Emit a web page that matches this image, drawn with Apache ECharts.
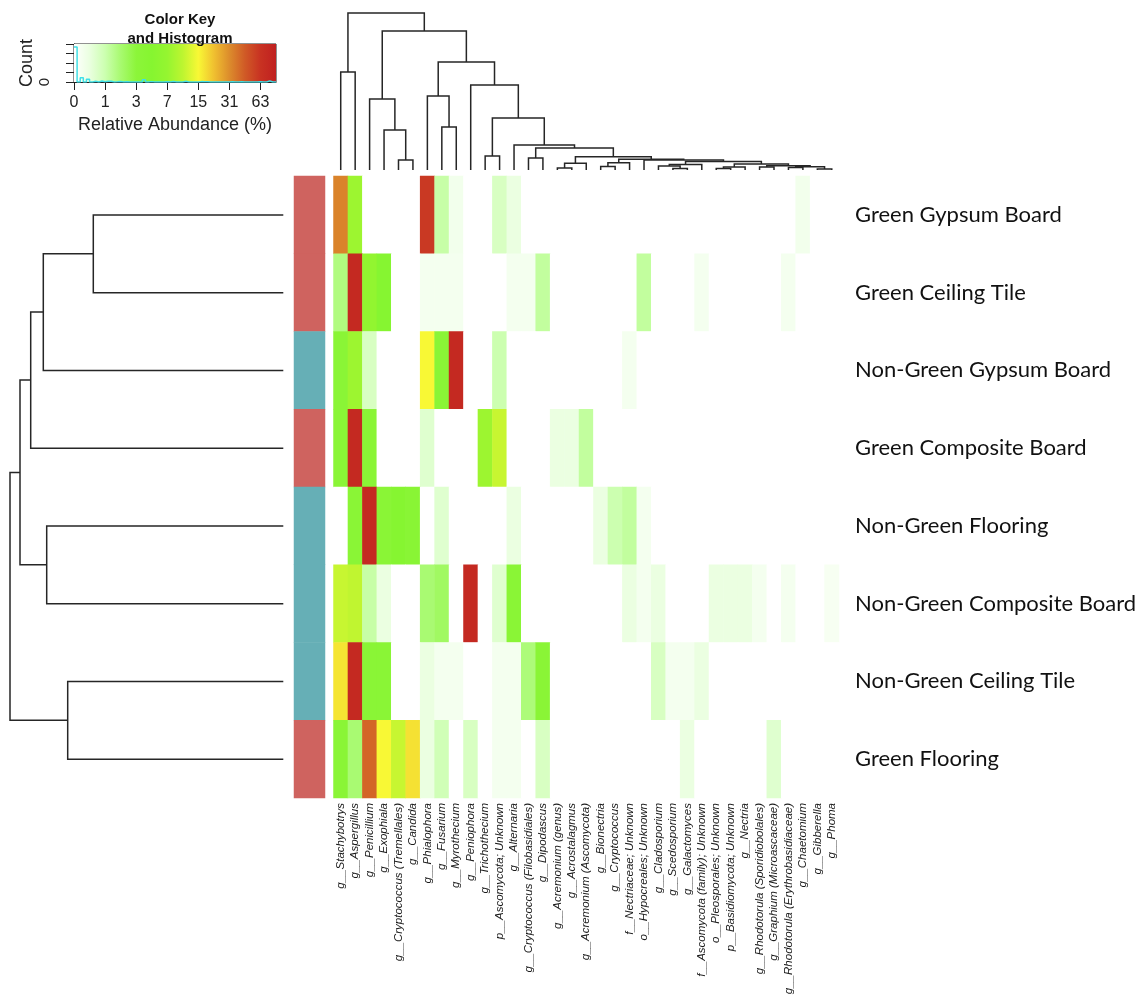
<!DOCTYPE html>
<html><head><meta charset="utf-8">
<script src="https://cdn.jsdelivr.net/npm/echarts@6/dist/echarts.min.js"></script>
<style>html,body{margin:0;padding:0;background:#fff}#c{width:1148px;height:999px}</style>
</head><body><div id="c"></div><script>
// ---------------- data ----------------
const columns = [
  'g__Stachybotrys','g__Aspergillus','g__Penicillium','g__Exophiala','g__Cryptococcus (Tremellales)',
  'g__Candida','g__Phialophora','g__Fusarium','g__Myrothecium','g__Peniophora','g__Trichothecium',
  'p__Ascomycota; Unknown','g__Alternaria','g__Cryptococcus (Filobasidiales)','g__Dipodascus',
  'g__Acremonium (genus)','g__Acrostalagmus','g__Acremonium (Ascomycota)','g__Bionectria','g__Cryptococcus',
  'f__Nectriaceae; Unknown','o__Hypocreales; Unknown','g__Cladosporium','g__Scedosporium','g__Galactomyces',
  'f__Ascomycota (family); Unknown','o__Pleosporales; Unknown','p__Basidiomycota; Unknown','g__Nectria',
  'g__Rhodotorula (Sporidiobolales)','g__Graphium (Microascaceae)','g__Rhodotorula (Erythrobasidiaceae)',
  'g__Chaetomium','g__Gibberella','g__Phoma'
];
const rows = [
  'Green Gypsum Board','Green Ceiling Tile','Non-Green Gypsum Board','Green Composite Board',
  'Non-Green Flooring','Non-Green Composite Board','Non-Green Ceiling Tile','Green Flooring'
];
const rowGroups = ['Green','Green','Non-Green','Green','Non-Green','Non-Green','Non-Green','Green'];
const groupColors = { 'Green': '#CF635F', 'Non-Green': '#66AFB6' };

// relative abundance (%) per row, 35 columns each
const abGreenGypsum      = [33,7.6,0,0,0,0,59,1.1,0.23,0,0,0.75,0.4,0,0,0,0,0,0,0,0,0,0,0,0,0,0,0,0,0,0,0,0.23,0,0];
const abGreenCeiling     = [1.6,75,6.5,4.5,0,0,0.2,0.2,0.2,0,0,0,0.2,0.2,1.2,0,0,0,0,0,0,1.2,0,0,0,0.2,0,0,0,0,0,0.2,0,0,0];
const abNonGreenGypsum   = [3.6,7.6,0.75,0,0,0,15,3.6,75,0,0,1.0,0,0,0,0,0,0,0,0,0.2,0,0,0,0,0,0,0,0,0,0,0,0,0,0];
const abGreenComposite   = [3.6,75,3.6,0,0,0,0.6,0,0,0,7.6,11,0,0,0,0.4,0.4,1.2,0,0,0,0,0,0,0,0,0,0,0,0,0,0,0,0,0];
const abNonGreenFlooring = [0,3.6,75,3.6,4.5,3.8,0,0.6,0,0,0,0,0.4,0,0,0,0,0,0.4,1.0,1.2,0.2,0,0,0,0,0,0,0,0,0,0,0,0,0];
const abNonGreenComposite= [11,10.5,1.1,0.4,0,0,1.8,2.1,0,75,0,0.6,3.6,0,0,0,0,0,0,0,0.4,0.2,0.4,0,0,0,0.4,0.4,0.4,0.2,0,0.2,0,0,0.15];
const abNonGreenCeiling  = [17,75,3.6,3.6,0,0,0.4,0.2,0.2,0,0,0.2,0.2,1.7,3.6,0,0,0,0,0,0,0,0.75,0.2,0.2,0.4,0,0,0,0,0,0,0,0,0];
const abGreenFlooring    = [3.6,1.8,41,15,11,17.4,0.4,0.9,0,0.75,0,0.2,0.2,0,0.75,0,0,0,0,0,0,0,0,0,0.4,0,0,0,0,0,0.6,0,0,0,0];
const abundance = [abGreenGypsum, abGreenCeiling, abNonGreenGypsum, abGreenComposite,
                   abNonGreenFlooring, abNonGreenComposite, abNonGreenCeiling, abGreenFlooring];

const keyTickLabels = ['0','1','3','7','15','31','63'];
// colours at log2(x+1) = 0, 0.5, 1, ... 6.5
const colorStops = ['#FFFFFF','#EAFFE0','#CCFFB0','#A8FA70','#8CF53A','#86F530','#95F530',
                    '#BDF530','#F8F835','#F0C030','#DC8C2C','#D05A26','#C83222','#C02020'];

// dendrograms (R hclust style merges: negative = leaf, positive = earlier merge; height)
const colMerges = [
  [-5,-6,10],[-4,1,40],[-3,2,71],[-1,-2,98],[-8,-9,43],[-7,5,74],[-11,-12,14],[-14,-15,12],
  [-16,-17,2],[9,-18,6.7],[-19,-20,3.5],[11,-21,7.3],[-24,-25,1.5],[-23,13,4],[14,-26,5.5],
  [-27,-28,1.5],[16,-29,3],[-30,-31,3],[-32,-33,2.5],[-34,-35,1],[19,20,3.2],[18,21,4.2],
  [17,22,6],[15,23,8.5],[-22,24,10],[12,25,10.7],[10,26,13.3],[8,27,22],[-13,28,25],
  [7,29,52],[-10,30,85],[6,31,108],[3,32,139],[4,33,157]
];
const rowMerges = [
  [-1,-2,190],[1,-3,240],[2,-4,252.6],[-5,-6,236.6],[3,4,263.3],[-7,-8,215.6],[5,6,273.3]
];

// ---------------- build ----------------
function log2p(v){ return Math.log2(v + 1); }
const heatData = [];
abundance.forEach((r, ri) => r.forEach((v, ci) => heatData.push([ci, ri, log2p(v), v])));

function dendroSegments(merges){
  const pos = [], hgt = [];
  const info = k => k < 0 ? [(-k) - 1, 0] : [pos[k-1], hgt[k-1]];
  const segs = [];
  merges.forEach((m, i) => {
    const a = info(m[0]), b = info(m[1]);
    pos[i] = (a[0] + b[0]) / 2; hgt[i] = m[2];
    segs.push([a[0], a[1], b[0], b[1], m[2]]);
  });
  return segs;
}
const colSegs = dendroSegments(colMerges);
const rowSegs = dendroSegments(rowMerges);

// histogram of log values
const binW = 0.1, keyMax = 6.5;
const nBins = Math.round(keyMax / binW);
const counts = new Array(nBins).fill(0);
heatData.forEach(d => { let k = Math.floor(d[2] / binW); if (k >= nBins) k = nBins - 1; counts[k]++; });
const histPts = [];
counts.forEach((c, k) => { histPts.push([k*binW, c]); histPts.push([(k+1)*binW, c]); });

const gradient = { type:'linear', x:0, y:0, x2:1, y2:0,
  colorStops: colorStops.map((c, i) => ({ offset: i/(colorStops.length-1), color: c })) };

function dendroRender(horizontal){
  return function(params, api){
    const a = api.value(0), ha = api.value(1), b = api.value(2), hb = api.value(3), h = api.value(4);
    const pts = horizontal ? [[ha,a],[h,a],[h,b],[hb,b]] : [[a,ha],[a,h],[b,h],[b,hb]];
    return { type:'polyline', shape:{ points: pts.map(p => api.coord(p)) },
             style:{ stroke:'#262626', lineWidth:1.5, fill:null } };
  };
}

const chart = echarts.init(document.getElementById('c'), null, { renderer:'canvas' });
const HM = { left:333.5, top:176, width:505.5, height:622 };
chart.setOption({
  animation:false,
  backgroundColor:'#fff',
  title:{ text:'Color Key\nand Histogram', left:175, top:5, textAlign:'center',
    textStyle:{ fontSize:15, fontWeight:'bold', lineHeight:19, fontFamily:'Liberation Sans', color:'#111' } },
  grid:[
    { left:HM.left, top:HM.top, width:HM.width, height:HM.height },
    { left:294, top:HM.top, width:31, height:HM.height },
    { left:HM.left, top:13, width:HM.width, height:157 },
    { left:10, top:HM.top, width:273.3, height:HM.height },
    { left:74, top:44, width:202, height:38, show:true, borderColor:'#222', borderWidth:1, backgroundColor:'transparent' }
  ],
  xAxis:[
    { type:'category', gridIndex:0, data:columns, position:'bottom',
      axisLine:{show:false}, axisTick:{show:false}, splitLine:{show:false},
      axisLabel:{ interval:0, rotate:90, margin:5, fontSize:11.5, fontStyle:'italic',
        fontFamily:'Liberation Sans', color:'#1a1a1a' } },
    { type:'category', gridIndex:1, data:['group'], show:false },
    { type:'value', gridIndex:2, min:-0.5, max:columns.length-0.5, show:false },
    { type:'value', gridIndex:3, min:0, max:273.3, inverse:true, show:false },
    { type:'value', gridIndex:4, min:0, max:keyMax, interval:1,
      splitLine:{show:false},
      axisLine:{ show:true, lineStyle:{ color:'#222' } },
      axisTick:{ show:true, length:8, customValues:[0,1,2,3,4,5,6], lineStyle:{ color:'#222' } },
      axisLabel:{ customValues:[0,1,2,3,4,5,6], formatter: v => keyTickLabels[Math.round(v)] || '',
        margin:13, fontSize:16, color:'#222', fontFamily:'Liberation Sans' },
      name:'Relative Abundance (%)', nameLocation:'middle', nameGap:34,
      nameTextStyle:{ fontSize:18, color:'#222', fontFamily:'Liberation Sans' } }
  ],
  yAxis:[
    { type:'category', gridIndex:0, data:rows, inverse:true, position:'right',
      axisLine:{show:false}, axisTick:{show:false}, splitLine:{show:false},
      axisLabel:{ margin:16, fontSize:22, fontFamily:'Lato', color:'#111' } },
    { type:'category', gridIndex:1, data:rows, inverse:true, show:false },
    { type:'value', gridIndex:2, min:0, max:157, show:false },
    { type:'value', gridIndex:3, min:-0.5, max:rows.length-0.5, inverse:true, show:false },
    { type:'value', gridIndex:4, min:0, max:200, interval:50,
      splitLine:{show:false},
      axisLine:{ show:true, lineStyle:{ color:'#222' } },
      axisTick:{ show:true, length:8, lineStyle:{ color:'#222' } },
      axisLabel:{ customValues:[0], rotate:90, margin:22, fontSize:15, color:'#222', fontFamily:'Liberation Sans' },
      name:'Count', nameLocation:'middle', nameRotate:90, nameGap:38,
      nameTextStyle:{ fontSize:18, color:'#222', fontFamily:'Liberation Sans' } }
  ],
  visualMap:{ type:'continuous', show:false, seriesIndex:0, dimension:2, min:0, max:keyMax,
    inRange:{ color: colorStops } },
  series:[
    { type:'heatmap', xAxisIndex:0, yAxisIndex:0, data:heatData, progressive:0,
      itemStyle:{ borderWidth:0 }, emphasis:{ disabled:true } },
    { type:'heatmap', xAxisIndex:1, yAxisIndex:1, progressive:0, emphasis:{ disabled:true },
      data: rowGroups.map((g, ri) => ({ value:[0, ri, 1], itemStyle:{ color: groupColors[g] } })) },
    { type:'custom', xAxisIndex:2, yAxisIndex:2, data:colSegs, renderItem:dendroRender(false), clip:false, silent:true },
    { type:'custom', xAxisIndex:3, yAxisIndex:3, data:rowSegs, renderItem:dendroRender(true), clip:false, silent:true },
    { type:'custom', xAxisIndex:4, yAxisIndex:4, data:[[0,0]], silent:true, z:1,
      renderItem:(params, api) => {
        const p0 = api.coord([0, 200]), p1 = api.coord([keyMax, 0]);
        return { type:'rect', shape:{ x:p0[0], y:p0[1], width:p1[0]-p0[0], height:p1[1]-p0[1] },
                 style:{ fill: gradient } };
      } },
    { type:'line', xAxisIndex:4, yAxisIndex:4, data:histPts, symbol:'none', clip:true, z:3, silent:true,
      lineStyle:{ color:'#40E0E8', width:1.5 } }
  ]
});
</script></body></html>
